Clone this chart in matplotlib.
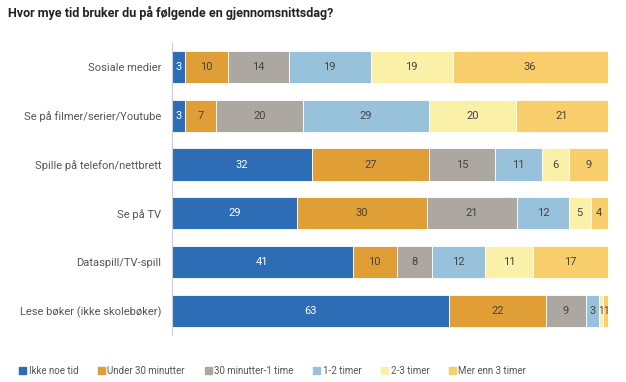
import matplotlib
matplotlib.use("Agg")
import matplotlib.pyplot as plt
from matplotlib.patches import Patch
import numpy as np

# data
activities = ["Sosiale medier", "Se på filmer/serier/Youtube", "Spille på telefon/nettbrett",
              "Se på TV", "Dataspill/TV-spill", "Lese bøker (ikke skolebøker)"]
categories = ["Ikke noe tid", "Under 30 minutter", "30 minutter-1 time",
              "1-2 timer", "2-3 timer", "Mer enn 3 timer"]
ikke_noe = [3, 3, 32, 29, 41, 63]
under_30 = [10, 7, 27, 30, 10, 22]
min30_1t = [14, 20, 15, 21, 8, 9]
t1_2 = [19, 29, 11, 12, 12, 3]
t2_3 = [19, 20, 6, 5, 11, 1]
over_3 = [36, 21, 9, 4, 17, 1]

colors = ["#2d6db5", "#e09f36", "#ada7a1", "#98c1dc", "#fbf0a8", "#f8cd6b"]
text_colors = ["white", "#444444", "#444444", "#444444", "#444444", "#444444"]

plt.rcParams['font.family'] = ['Roboto', 'DejaVu Sans']

fig = plt.figure(figsize=(6.26, 3.82), dpi=100)
ax = fig.add_axes([0.275, 0.123, 0.696, 0.765])

series = [ikke_noe, under_30, min30_1t, t1_2, t2_3, over_3]
values = np.array(series, dtype=float)
totals = values.sum(axis=0)
scaled = values / totals * 100  # 100% stacked
y = np.arange(len(activities))
left = np.zeros(len(activities))
for i, row in enumerate(scaled):
    ax.barh(y, row, left=left, height=0.66, color=colors[i], edgecolor="white", linewidth=0.6)
    for j in range(len(activities)):
        fs = 8 if row[j] > 2 else 7
        ax.text(left[j] + row[j] / 2, y[j], str(series[i][j]), ha="center", va="center",
                fontsize=fs, color=text_colors[i])
    left += row

ax.set_xlim(0, 100)
ax.set_ylim(5.5, -0.5)
ax.set_yticks(y)
ax.set_yticklabels(activities, fontsize=8, color="#555555")
ax.tick_params(axis="y", length=0, pad=8)
ax.set_xticks([])
for s in ["top", "right", "bottom"]:
    ax.spines[s].set_visible(False)
ax.spines["left"].set_color("#cccccc")

fig.text(0.013, 0.965, "Hvor mye tid bruker du på følgende en gjennomsnittsdag?",
         fontsize=9, fontweight="bold", color="#222222", va="center")

handles = [Patch(color=c) for c in colors]
fig.legend(handles, categories, loc="center left", bbox_to_anchor=(0.031, 0.03), ncol=6,
           frameon=False, fontsize=7, handlelength=0.7, handleheight=0.7,
           handletextpad=0.25, columnspacing=2.05, labelcolor="#555555",
           borderaxespad=0, borderpad=0)

fig.savefig("out.png", dpi=100)
